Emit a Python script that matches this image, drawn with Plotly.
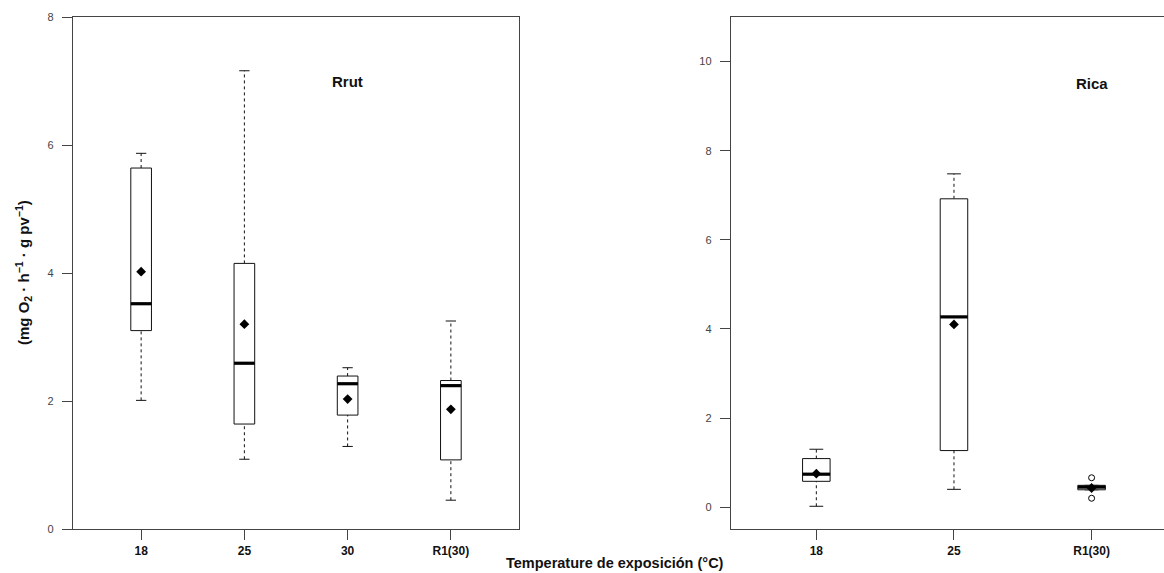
import plotly.graph_objects as go

# ---------------- data ----------------
left_cats = ["18", "25", "30", "R1(30)"]
left_q1 = [3.10, 1.64, 1.78, 1.08]
left_median = [3.52, 2.59, 2.27, 2.24]
left_q3 = [5.64, 4.15, 2.39, 2.32]
left_low = [2.01, 1.09, 1.29, 0.45]
left_high = [5.87, 7.16, 2.52, 3.25]
left_mean = [4.02, 3.20, 2.03, 1.87]

right_cats = ["18", "25", "R1(30)"]
right_q1 = [0.58, 1.27, 0.39]
right_median = [0.74, 4.27, 0.45]
right_q3 = [1.09, 6.92, 0.49]
right_low = [0.02, 0.40, 0.39]
right_high = [1.30, 7.48, 0.49]
right_mean = [0.75, 4.10, 0.43]
right_outlier_cat = ["R1(30)", "R1(30)"]
right_outlier_val = [0.66, 0.20]

left_title = "Rrut"
right_title = "Rica"
left_yticks = [0, 2, 4, 6, 8]
right_yticks = [0, 2, 4, 6, 8, 10]

# ---------------- style ----------------
W, H = 1164, 573
FONT = "Liberation Sans, Arial, Helvetica, sans-serif"
HALF = 0.1      # half box width (category units)
CAP = 0.05      # half cap width
BOXC = "#111111"
AXC = "#444444"


def px_x(p):
    return p / W


def px_y(p):
    return 1 - p / H


fig = go.Figure()


def add_panel(cats, q1, med, q3, lo, hi, mean, xa, ya):
    pos = list(range(1, len(cats) + 1))
    bx, by, wx, wy, cx, cy, mx, my = [], [], [], [], [], [], [], []
    for i, p in enumerate(pos):
        bx += [p - HALF, p + HALF, p + HALF, p - HALF, p - HALF, None]
        by += [q1[i], q1[i], q3[i], q3[i], q1[i], None]
        wx += [p, p, None, p, p, None]
        wy += [q3[i], hi[i], None, lo[i], q1[i], None]
        cx += [p - CAP, p + CAP, None, p - CAP, p + CAP, None]
        cy += [hi[i], hi[i], None, lo[i], lo[i], None]
        mx += [p - HALF, p + HALF, None]
        my += [med[i], med[i], None]
    common = dict(xaxis=xa, yaxis=ya, showlegend=False, hoverinfo="skip", mode="lines")
    fig.add_trace(go.Scatter(x=wx, y=wy, line=dict(color=BOXC, width=1, dash="3px,3px"), **common))
    fig.add_trace(go.Scatter(x=cx, y=cy, line=dict(color=BOXC, width=1), **common))
    fig.add_trace(go.Scatter(x=bx, y=by, line=dict(color=BOXC, width=1), fill="toself",
                             fillcolor="white", **common))
    fig.add_trace(go.Scatter(x=mx, y=my, line=dict(color="black", width=3.2), **common))
    fig.add_trace(go.Scatter(x=pos, y=mean, mode="markers", xaxis=xa, yaxis=ya, showlegend=False,
                             marker=dict(symbol="diamond", size=7.5, color="black")))
    return pos


lpos = add_panel(left_cats, left_q1, left_median, left_q3, left_low, left_high, left_mean, "x", "y")
rpos = add_panel(right_cats, right_q1, right_median, right_q3, right_low, right_high, right_mean, "x2", "y2")

out_x = [right_cats.index(c) + 1 for c in right_outlier_cat]
fig.add_trace(go.Scatter(x=out_x, y=right_outlier_val, mode="markers", xaxis="x2", yaxis="y2",
                         showlegend=False,
                         marker=dict(symbol="circle-open", size=6, color="black", line=dict(width=1))))

ydom = [px_y(529), px_y(17)]
xaxis_common = dict(showgrid=False, zeroline=False, showline=True, linecolor=AXC, linewidth=1.4,
                    ticks="outside", ticklen=10, tickcolor=AXC, tickwidth=1, automargin=False,
                    tickfont=dict(family=FONT, size=12, color="#111", weight="bold"))
yaxis_common = dict(showgrid=False, zeroline=False, showline=True, linecolor=AXC, linewidth=1.4,
                    ticks="outside", ticklen=10, tickcolor=AXC, tickwidth=1, automargin=False,
                    tickfont=dict(family=FONT, size=11, color="#444"), ticklabelstandoff=6)

fig.update_layout(
    width=W, height=H,
    margin=dict(l=0, r=0, t=0, b=0, autoexpand=False),
    paper_bgcolor="white", plot_bgcolor="white",
    xaxis=dict(domain=[px_x(73), px_x(519)], range=[0.34, len(left_cats) + 0.66],
               tickvals=lpos, ticktext=left_cats, mirror=True, anchor="y", **xaxis_common),
    yaxis=dict(domain=ydom, range=[0, 8], tickvals=left_yticks, mirror=True, anchor="x", **yaxis_common),
    xaxis2=dict(domain=[px_x(731), 1.0], range=[0.38, 3.526],
                tickvals=rpos, ticktext=right_cats, mirror=True, anchor="y2", **xaxis_common),
    yaxis2=dict(domain=ydom, range=[-0.49, 11.0], tickvals=right_yticks, mirror=False, anchor="x2",
                **yaxis_common),
)

fig.add_annotation(x=3, y=7.0, xref="x", yref="y", text="<b>" + left_title + "</b>", showarrow=False,
                   xanchor="center", yanchor="middle",
                   font=dict(family=FONT, size=15, color="#111"))
fig.add_annotation(x=3, y=9.5, xref="x2", yref="y2", text="<b>" + right_title + "</b>", showarrow=False,
                   xanchor="center", yanchor="middle",
                   font=dict(family=FONT, size=15, color="#111"))
fig.add_annotation(x=px_x(23), y=px_y(273), xref="paper", yref="paper", textangle=-90, showarrow=False,
                   xanchor="center", yanchor="middle",
                   text="<b>(mg O<sub>2</sub> · h<sup>−1</sup> · g pv<sup>−1</sup>)</b>",
                   font=dict(family=FONT, size=15, color="#111"))
fig.add_annotation(x=px_x(615), y=px_y(563), xref="paper", yref="paper", showarrow=False,
                   xanchor="center", yanchor="middle",
                   text="<b>Temperature de exposición (°C)</b>",
                   font=dict(family=FONT, size=14.5, color="#111"))

fig.write_html("out.html")
